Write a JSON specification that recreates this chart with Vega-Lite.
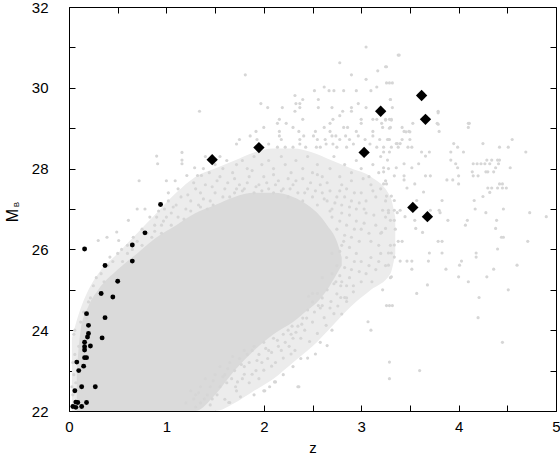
{
  "$schema": "https://vega.github.io/schema/vega-lite/v6.json",
  "autosize": "none",
  "padding": {"left": 69, "top": 7, "right": 4, "bottom": 44},
  "width": 487,
  "height": 404,
  "background": "white",
  "config": {
    "view": {"stroke": null},
    "axis": {
      "domainColor": "black", "tickColor": "black", "labelColor": "black", "titleColor": "black",
      "labelFont": "Liberation Sans", "titleFont": "Liberation Sans", "labelFontSize": 15, "titleFontSize": 15,
      "titleFontWeight": "normal", "grid": false, "tickSize": -6, "domainWidth": 1, "tickWidth": 1, "labelFlush": false
    }
  },
  "datasets": {
    "halo": [
      {"z": 0.03, "lo": 22.0, "hi": 23.8},
      {"z": 0.1, "lo": 22.0, "hi": 24.4},
      {"z": 0.2, "lo": 22.0, "hi": 25.0},
      {"z": 0.3, "lo": 22.0, "hi": 25.4},
      {"z": 0.5, "lo": 22.0, "hi": 25.9},
      {"z": 0.7, "lo": 22.0, "hi": 26.4},
      {"z": 0.9, "lo": 22.0, "hi": 26.9},
      {"z": 1.1, "lo": 22.0, "hi": 27.4},
      {"z": 1.3, "lo": 22.0, "hi": 27.8},
      {"z": 1.5, "lo": 22.0, "hi": 28.0},
      {"z": 1.7, "lo": 22.2, "hi": 28.2},
      {"z": 1.9, "lo": 22.5, "hi": 28.4},
      {"z": 2.1, "lo": 22.8, "hi": 28.5},
      {"z": 2.3, "lo": 23.2, "hi": 28.5},
      {"z": 2.5, "lo": 23.6, "hi": 28.4},
      {"z": 2.7, "lo": 24.1, "hi": 28.2},
      {"z": 2.9, "lo": 24.6, "hi": 28.0},
      {"z": 3.1, "lo": 25.0, "hi": 27.8},
      {"z": 3.3, "lo": 25.4, "hi": 27.3},
      {"z": 3.35, "lo": 25.9, "hi": 26.8}
    ],
    "core": [
      {"z": 0.08, "lo": 22.0, "hi": 23.0},
      {"z": 0.12, "lo": 22.0, "hi": 24.0},
      {"z": 0.2, "lo": 22.0, "hi": 24.6},
      {"z": 0.3, "lo": 22.0, "hi": 25.0},
      {"z": 0.5, "lo": 22.0, "hi": 25.5},
      {"z": 0.7, "lo": 22.0, "hi": 25.9},
      {"z": 0.9, "lo": 22.0, "hi": 26.3},
      {"z": 1.1, "lo": 22.0, "hi": 26.6},
      {"z": 1.3, "lo": 22.0, "hi": 26.9},
      {"z": 1.5, "lo": 22.4, "hi": 27.1},
      {"z": 1.7, "lo": 23.0, "hi": 27.3},
      {"z": 1.9, "lo": 23.5, "hi": 27.4},
      {"z": 2.1, "lo": 23.9, "hi": 27.4},
      {"z": 2.3, "lo": 24.2, "hi": 27.3},
      {"z": 2.45, "lo": 24.5, "hi": 27.1},
      {"z": 2.55, "lo": 24.7, "hi": 26.9},
      {"z": 2.65, "lo": 25.0, "hi": 26.6},
      {"z": 2.75, "lo": 25.4, "hi": 26.2},
      {"z": 2.8, "lo": 25.6, "hi": 25.8}
    ],
    "gray": [
      {"z":3.05,"m":31.01},{"z":3.38,"m":30.81},{"z":2.78,"m":30.62},{"z":1.81,"m":30.32},{"z":2.90,"m":30.32},{"z":3.17,"m":30.42},{"z":3.25,"m":30.52},{"z":3.05,"m":30.21},{"z":3.26,"m":30.12},{"z":3.32,"m":30.12},{"z":3.16,"m":30.02},{"z":2.62,"m":30.02},
      {"z":2.52,"m":29.93},{"z":2.67,"m":29.93},{"z":2.72,"m":29.93},{"z":2.82,"m":29.93},{"z":2.95,"m":29.93},{"z":3.10,"m":29.93},{"z":2.32,"m":29.81},{"z":2.56,"m":29.71},{"z":2.40,"m":29.71},{"z":2.33,"m":29.61},{"z":2.37,"m":29.61},{"z":1.97,"m":29.61},
      {"z":2.04,"m":29.51},{"z":2.19,"m":29.51},{"z":2.37,"m":29.51},{"z":2.56,"m":29.51},{"z":2.70,"m":29.51},{"z":2.90,"m":29.51},{"z":2.97,"m":29.61},{"z":3.05,"m":29.51},{"z":3.30,"m":29.71},{"z":3.32,"m":29.51},{"z":2.32,"m":29.42},{"z":2.81,"m":29.42},{"z":2.90,"m":29.42},
      {"z":2.16,"m":29.22},{"z":2.40,"m":29.22},{"z":2.78,"m":29.31},{"z":2.71,"m":29.22},{"z":3.0,"m":29.22},{"z":3.12,"m":29.22},{"z":3.16,"m":29.22},{"z":3.25,"m":29.22},{"z":3.31,"m":29.22},{"z":2.14,"m":29.12},{"z":2.23,"m":29.12},{"z":3.0,"m":29.12},{"z":3.21,"m":29.12},{"z":1.34,"m":29.42},
      {"z":2.30,"m":29.02},{"z":2.0,"m":29.02},{"z":1.92,"m":28.92},{"z":2.16,"m":28.92},{"z":2.36,"m":28.92},{"z":2.53,"m":28.92},{"z":2.62,"m":29.02},{"z":2.68,"m":29.12},{"z":2.82,"m":29.02},{"z":2.86,"m":29.02},{"z":2.68,"m":28.92},{"z":2.95,"m":28.92},{"z":3.12,"m":28.92},{"z":3.22,"m":29.02},{"z":3.30,"m":29.02},
      {"z":1.75,"m":28.72},{"z":1.86,"m":28.81},{"z":1.93,"m":28.72},{"z":2.16,"m":28.81},{"z":2.18,"m":28.72},{"z":2.37,"m":28.72},{"z":2.41,"m":28.81},{"z":2.51,"m":28.81},{"z":2.55,"m":28.72},{"z":2.63,"m":28.72},{"z":2.70,"m":28.81},{"z":2.74,"m":28.81},{"z":2.78,"m":28.72},{"z":2.84,"m":28.81},{"z":2.88,"m":28.72},{"z":2.97,"m":28.81},{"z":3.04,"m":28.72},{"z":3.12,"m":28.81},{"z":3.19,"m":28.72},{"z":3.28,"m":28.72},{"z":3.37,"m":28.62},
      {"z":1.72,"m":28.61},{"z":2.05,"m":28.61},{"z":2.14,"m":28.53},{"z":2.22,"m":28.53},{"z":2.30,"m":28.53},{"z":2.37,"m":28.61},{"z":2.43,"m":28.53},{"z":2.54,"m":28.53},{"z":2.58,"m":28.53},{"z":2.64,"m":28.61},{"z":2.71,"m":28.61},{"z":2.75,"m":28.53},{"z":2.85,"m":28.53},{"z":2.92,"m":28.61},{"z":3.09,"m":28.61},{"z":3.16,"m":28.53},{"z":3.23,"m":28.53},{"z":3.31,"m":28.53},{"z":3.38,"m":28.53},
      {"z":3.39,"m":30.81},{"z":3.26,"m":30.52},{"z":3.29,"m":30.12},{"z":3.30,"m":29.71},{"z":3.79,"m":29.42},{"z":3.29,"m":29.22},{"z":3.53,"m":29.12},{"z":3.78,"m":29.12},{"z":4.11,"m":29.12},{"z":4.10,"m":29.02},{"z":3.42,"m":29.02},{"z":3.80,"m":28.92},{"z":3.44,"m":28.92},{"z":3.49,"m":28.92},
      {"z":3.29,"m":28.72},{"z":3.42,"m":28.72},{"z":3.50,"m":28.72},{"z":4.55,"m":28.72},{"z":3.95,"m":28.62},{"z":3.99,"m":28.53},{"z":4.25,"m":28.62},{"z":4.42,"m":28.53},{"z":4.51,"m":28.53},{"z":3.36,"m":28.62},{"z":3.40,"m":28.62},{"z":3.48,"m":28.53},{"z":3.52,"m":28.53},
      {"z":3.79,"m":29.38},{"z":3.79,"m":29.10},{"z":4.10,"m":29.12},{"z":4.69,"m":28.41},{"z":3.92,"m":28.41},{"z":4.05,"m":28.41},{"z":3.92,"m":28.21},{"z":3.97,"m":28.12},{"z":4.15,"m":28.12},{"z":4.19,"m":28.12},{"z":4.23,"m":28.12},{"z":4.29,"m":28.21},{"z":4.34,"m":28.21},{"z":4.40,"m":28.21},{"z":4.42,"m":28.21},{"z":4.27,"m":28.12},{"z":4.32,"m":28.12},{"z":4.41,"m":28.12},
      {"z":4.53,"m":28.02},{"z":4.38,"m":28.02},{"z":3.99,"m":28.02},{"z":4.14,"m":27.92},{"z":4.28,"m":27.92},{"z":4.30,"m":27.92},{"z":4.36,"m":27.92},{"z":4.15,"m":27.82},{"z":4.20,"m":27.82},{"z":4.0,"m":27.82},{"z":3.88,"m":27.72},{"z":3.94,"m":27.72},{"z":4.0,"m":27.62},{"z":4.42,"m":27.62},{"z":4.45,"m":27.62},
      {"z":4.30,"m":27.52},{"z":4.34,"m":27.52},{"z":4.40,"m":27.52},{"z":4.45,"m":27.52},{"z":4.49,"m":27.52},{"z":4.32,"m":27.41},{"z":4.25,"m":27.31},{"z":4.16,"m":27.21},{"z":4.17,"m":27.0},{"z":4.46,"m":27.0},{"z":4.28,"m":26.91},{"z":4.73,"m":26.91},{"z":4.90,"m":26.81},{"z":4.39,"m":26.72},{"z":4.09,"m":26.72},{"z":4.07,"m":26.6},{"z":4.38,"m":26.52},
      {"z":4.44,"m":26.30},{"z":4.46,"m":26.30},{"z":4.71,"m":26.2},{"z":4.40,"m":26.01},{"z":4.18,"m":25.91},{"z":4.18,"m":25.81},{"z":4.03,"m":25.71},{"z":4.01,"m":25.61},{"z":4.60,"m":25.61},{"z":4.36,"m":25.51},{"z":4.0,"m":25.32},{"z":4.29,"m":25.32},{"z":4.10,"m":25.2},{"z":4.51,"m":25.0},{"z":4.21,"m":24.81},{"z":3.68,"m":25.12},{"z":3.57,"m":24.91},{"z":3.26,"m":24.61},{"z":3.29,"m":24.61},{"z":3.32,"m":24.61},
      {"z":3.25,"m":29.2},{"z":3.31,"m":29.2},{"z":3.29,"m":29.0},{"z":3.50,"m":28.91},{"z":3.46,"m":28.91},{"z":3.27,"m":28.72},{"z":3.23,"m":28.41},{"z":3.29,"m":28.41},{"z":3.62,"m":28.41},{"z":3.70,"m":28.41},{"z":3.66,"m":28.31},{"z":3.27,"m":28.21},{"z":3.44,"m":28.12},{"z":3.59,"m":28.12},{"z":3.23,"m":28.02},{"z":3.36,"m":28.02},{"z":3.52,"m":28.02},{"z":3.23,"m":27.92},
      {"z":3.34,"m":27.82},{"z":3.44,"m":27.82},{"z":3.66,"m":27.82},{"z":3.71,"m":27.82},{"z":3.44,"m":27.72},{"z":3.23,"m":27.62},{"z":3.26,"m":27.62},{"z":3.55,"m":27.62},{"z":3.47,"m":27.52},{"z":3.64,"m":27.42},{"z":3.26,"m":27.32},{"z":3.31,"m":27.32},{"z":3.34,"m":27.21},{"z":3.57,"m":27.21},{"z":3.83,"m":27.21},
      {"z":3.22,"m":26.97},{"z":3.28,"m":26.97},{"z":3.34,"m":26.97},{"z":3.40,"m":26.97},{"z":3.71,"m":26.97},{"z":3.80,"m":26.97},{"z":3.81,"m":26.91},{"z":3.28,"m":26.91},{"z":3.37,"m":26.91},{"z":3.45,"m":26.81},{"z":3.55,"m":26.72},{"z":3.34,"m":26.72},{"z":3.30,"m":26.72},{"z":3.89,"m":26.72},{"z":3.56,"m":26.52},{"z":3.63,"m":26.42},{"z":3.25,"m":26.52},{"z":3.21,"m":26.42},
      {"z":3.79,"m":26.2},{"z":3.83,"m":26.2},{"z":3.38,"m":26.2},{"z":3.42,"m":26.2},{"z":3.34,"m":26.11},{"z":3.70,"m":25.91},{"z":3.83,"m":25.91},{"z":3.28,"m":25.91},{"z":3.31,"m":25.91},{"z":3.34,"m":25.81},{"z":3.40,"m":25.71},{"z":3.47,"m":25.71},{"z":3.52,"m":25.71},{"z":3.69,"m":25.71},{"z":3.28,"m":25.61},{"z":3.52,"m":25.51},{"z":3.87,"m":25.51},{"z":3.31,"m":25.32},
      {"z":4.20,"m":24.31},{"z":4.45,"m":23.70},{"z":3.29,"m":23.21},{"z":3.60,"m":23.0},{"z":3.29,"m":22.80},
      {"z":3.07,"m":24.21},{"z":3.10,"m":24.0},{"z":2.36,"m":22.6},{"z":2.12,"m":22.72},{"z":2.0,"m":22.5},{"z":1.64,"m":22.21},{"z":1.60,"m":22.29},{"z":1.39,"m":22.3},{"z":1.47,"m":22.3},
      {"z":1.65,"m":22.21},{"z":1.71,"m":22.6},{"z":1.73,"m":22.72},{"z":1.67,"m":22.8},{"z":1.80,"m":22.91},{"z":1.88,"m":22.91},{"z":2.0,"m":23.01},{"z":2.01,"m":22.5},{"z":2.06,"m":22.6},{"z":2.11,"m":22.72},{"z":2.35,"m":22.6},{"z":2.08,"m":23.11},{"z":2.20,"m":23.31},{"z":2.45,"m":23.31},{"z":2.28,"m":23.41},{"z":2.53,"m":23.41},
      {"z":2.65,"m":23.62},{"z":2.47,"m":23.72},{"z":2.55,"m":23.92},{"z":2.64,"m":24.12},{"z":2.62,"m":24.31},{"z":2.72,"m":24.41},{"z":2.69,"m":24.71},{"z":2.85,"m":24.71},{"z":2.79,"m":24.81},{"z":2.83,"m":24.81},{"z":2.74,"m":25.2},{"z":2.79,"m":25.1},{"z":2.85,"m":25.1},{"z":2.92,"m":25.1},{"z":3.0,"m":25.2},{"z":3.11,"m":25.2},{"z":3.22,"m":25.0},{"z":2.56,"m":24.61},{"z":2.60,"m":24.61},{"z":2.46,"m":24.84},{"z":2.55,"m":24.91},{"z":2.50,"m":24.91},
      {"z":1.25,"m":22.5},{"z":1.3,"m":22.4},{"z":1.35,"m":22.6},{"z":1.4,"m":22.8},{"z":1.45,"m":22.6},{"z":1.5,"m":22.9},{"z":1.55,"m":23.1},{"z":1.6,"m":22.9},{"z":1.65,"m":23.2},{"z":1.7,"m":23.0},{"z":1.75,"m":23.3},{"z":1.8,"m":23.5},{"z":1.85,"m":23.2},{"z":1.9,"m":23.6},{"z":1.95,"m":23.4},{"z":2.0,"m":23.7},{"z":2.05,"m":23.5},{"z":2.1,"m":23.8},{"z":2.15,"m":23.6},{"z":2.2,"m":23.9},{"z":2.25,"m":24.0},{"z":2.3,"m":23.8},{"z":2.35,"m":24.1},{"z":2.4,"m":24.3},{"z":2.45,"m":24.5},
      {"z":1.55,"m":22.6},{"z":1.62,"m":22.7},{"z":1.72,"m":22.5},{"z":1.78,"m":22.8},{"z":1.85,"m":22.7},{"z":1.92,"m":23.0},{"z":1.98,"m":23.2},{"z":2.04,"m":23.3},{"z":2.12,"m":23.2},{"z":2.18,"m":23.5},{"z":2.26,"m":23.6},{"z":2.32,"m":23.5},{"z":2.38,"m":23.8},{"z":2.42,"m":24.0},{"z":1.35,"m":22.2},{"z":1.45,"m":22.15},{"z":1.52,"m":22.4},{"z":1.3,"m":22.1},{"z":1.2,"m":22.2},{"z":1.8,"m":23.1},{"z":1.95,"m":22.8},{"z":2.28,"m":23.9},{"z":2.5,"m":24.2},{"z":2.5,"m":24.7},
      {"z":1.28,"m":22.3},{"z":1.33,"m":22.45},{"z":1.42,"m":22.4},{"z":1.48,"m":22.75},{"z":1.58,"m":22.85},{"z":1.63,"m":23.05},{"z":1.68,"m":23.35},{"z":1.77,"m":23.15},{"z":1.83,"m":23.4},{"z":1.88,"m":23.5},{"z":1.93,"m":23.25},{"z":2.02,"m":23.55},{"z":2.08,"m":23.45},{"z":2.14,"m":23.75},{"z":2.22,"m":23.7},{"z":2.29,"m":24.1},{"z":2.33,"m":23.95},{"z":2.39,"m":24.15},{"z":2.44,"m":24.3},{"z":2.52,"m":24.45},{"z":2.58,"m":24.55},{"z":2.6,"m":24.8},{"z":1.9,"m":22.4},{"z":1.76,"m":22.35},{"z":2.2,"m":22.9},{"z":2.3,"m":23.1},{"z":2.38,"m":23.3},{"z":2.58,"m":23.7},{"z":2.7,"m":24.0},{"z":2.8,"m":24.4},
      {"z":0.72,"m":27.7},{"z":1.0,"m":27.7},{"z":1.09,"m":27.7},{"z":0.70,"m":27.0},{"z":0.78,"m":27.0},{"z":0.83,"m":26.8},{"z":0.90,"m":26.8},{"z":0.49,"m":26.43},{"z":0.30,"m":26.22},{"z":0.39,"m":26.3},{"z":0.54,"m":26.0},{"z":0.60,"m":26.1},{"z":0.66,"m":26.3},{"z":0.75,"m":26.5},{"z":0.88,"m":26.6},{"z":0.95,"m":26.6},
      {"z":1.02,"m":27.4},{"z":1.02,"m":27.2},{"z":1.1,"m":27.1},{"z":1.15,"m":27.3},{"z":1.2,"m":27.0},{"z":1.25,"m":27.2},{"z":1.3,"m":27.5},{"z":1.35,"m":27.4},{"z":1.4,"m":27.6},{"z":1.45,"m":27.2},{"z":1.5,"m":27.4},{"z":1.55,"m":27.8},{"z":1.6,"m":27.5},{"z":1.21,"m":27.83},{"z":1.29,"m":28.02},{"z":1.32,"m":27.83},{"z":1.36,"m":27.83},{"z":1.16,"m":28.4},{"z":1.16,"m":28.21},{"z":1.16,"m":28.12},{"z":0.90,"m":28.31},{"z":0.91,"m":28.12},
      {"z":1.05,"m":26.9},{"z":0.97,"m":26.7},{"z":1.12,"m":26.8},{"z":1.18,"m":26.75},{"z":1.42,"m":27.0},{"z":1.48,"m":27.1},{"z":1.38,"m":28.0},{"z":1.44,"m":27.9},{"z":1.5,"m":28.1},{"z":1.58,"m":28.0},{"z":1.62,"m":28.2},{"z":1.55,"m":28.3},{"z":1.4,"m":28.3},
      {"z":1.22,"m":27.35},{"z":1.28,"m":27.65},{"z":1.33,"m":27.1},{"z":1.38,"m":27.25},{"z":1.47,"m":27.55},{"z":1.52,"m":27.7},{"z":1.58,"m":27.3},{"z":1.63,"m":27.65},{"z":1.12,"m":27.5},{"z":1.07,"m":27.05},{"z":0.98,"m":27.0},{"z":0.92,"m":26.95},{"z":1.25,"m":26.95},{"z":1.35,"m":27.05},
      {"z":1.65,"m":27.3},{"z":1.7,"m":27.4},{"z":1.75,"m":27.6},{"z":1.68,"m":27.9},{"z":1.8,"m":27.5},{"z":1.85,"m":27.8},{"z":1.9,"m":27.4},{"z":1.95,"m":27.6},{"z":2.0,"m":27.8},{"z":2.05,"m":27.5},{"z":2.1,"m":27.4},{"z":2.15,"m":27.7},{"z":2.2,"m":27.5},{"z":2.25,"m":27.3},{"z":2.3,"m":27.6},{"z":2.35,"m":27.4},{"z":2.4,"m":27.2},{"z":2.45,"m":27.5},{"z":2.5,"m":27.3},{"z":2.55,"m":27.1},{"z":2.6,"m":27.4},{"z":2.65,"m":27.2},{"z":2.7,"m":27.0},{"z":2.75,"m":27.3},{"z":2.8,"m":27.1},{"z":2.85,"m":27.5},{"z":2.9,"m":27.2},{"z":2.95,"m":27.0},{"z":3.0,"m":27.4},{"z":3.05,"m":27.2},{"z":3.1,"m":27.6},{"z":3.15,"m":27.3},
      {"z":1.72,"m":27.5},{"z":1.78,"m":27.45},{"z":1.83,"m":27.65},{"z":1.92,"m":27.55},{"z":1.98,"m":27.45},{"z":2.03,"m":27.65},{"z":2.12,"m":27.6},{"z":2.18,"m":27.45},{"z":2.27,"m":27.5},{"z":2.33,"m":27.7},{"z":2.42,"m":27.4},{"z":2.48,"m":27.65},{"z":2.53,"m":27.45},{"z":2.58,"m":27.6},{"z":2.62,"m":27.25},{"z":2.68,"m":27.45},{"z":2.73,"m":27.15},{"z":2.78,"m":27.45},{"z":2.83,"m":27.3},{"z":2.88,"m":27.05},{"z":2.93,"m":27.4},{"z":2.98,"m":27.15},{"z":3.03,"m":27.0},{"z":3.12,"m":27.45},
      {"z":1.72,"m":28.1},{"z":1.78,"m":28.2},{"z":1.83,"m":28.0},{"z":1.9,"m":28.3},{"z":1.98,"m":28.1},{"z":2.05,"m":28.2},{"z":2.1,"m":28.0},{"z":2.18,"m":28.3},{"z":2.22,"m":28.1},{"z":2.28,"m":27.9},{"z":2.33,"m":28.2},{"z":2.4,"m":28.0},{"z":2.45,"m":28.3},{"z":2.5,"m":27.9},{"z":2.55,"m":28.1},{"z":2.6,"m":27.8},{"z":2.68,"m":28.0},{"z":2.72,"m":28.3},{"z":2.78,"m":27.8},{"z":2.83,"m":28.1},{"z":2.9,"m":27.9},{"z":2.95,"m":28.2},{"z":3.0,"m":28.0},{"z":3.08,"m":27.8},{"z":3.12,"m":28.1},{"z":3.18,"m":27.9},{"z":3.2,"m":28.3},{"z":3.25,"m":27.7},{"z":3.28,"m":28.0},
      {"z":1.7,"m":27.75},{"z":2.1,"m":27.85},{"z":2.4,"m":27.75},{"z":2.65,"m":27.65},{"z":2.9,"m":27.7},{"z":3.2,"m":27.5},{"z":3.25,"m":27.2},{"z":1.88,"m":27.95},{"z":2.25,"m":27.75},{"z":2.55,"m":27.85},{"z":2.8,"m":27.6},{"z":3.02,"m":27.75},
      {"z":2.7,"m":26.8},{"z":2.75,"m":26.5},{"z":2.8,"m":26.9},{"z":2.85,"m":26.6},{"z":2.9,"m":26.3},{"z":2.95,"m":26.7},{"z":3.0,"m":26.5},{"z":3.05,"m":26.9},{"z":3.1,"m":26.2},{"z":3.15,"m":26.6},{"z":3.2,"m":26.4},{"z":3.25,"m":26.8},{"z":3.3,"m":26.1},{"z":3.35,"m":26.5},
      {"z":2.68,"m":26.95},{"z":2.78,"m":26.7},{"z":2.83,"m":26.35},{"z":2.88,"m":26.85},{"z":2.93,"m":26.5},{"z":2.98,"m":26.2},{"z":3.03,"m":26.65},{"z":3.08,"m":26.4},{"z":3.13,"m":26.85},{"z":3.18,"m":26.1},{"z":2.82,"m":26.2},{"z":2.78,"m":25.95},{"z":2.88,"m":26.05},
      {"z":2.7,"m":25.9},{"z":2.75,"m":25.6},{"z":2.8,"m":26.1},{"z":2.85,"m":25.8},{"z":2.9,"m":25.5},{"z":2.95,"m":25.9},{"z":3.0,"m":25.7},{"z":3.05,"m":25.4},{"z":3.1,"m":25.8},{"z":3.15,"m":25.5},{"z":3.2,"m":25.9},{"z":3.25,"m":25.6},{"z":3.3,"m":25.3},{"z":2.6,"m":25.3},{"z":2.65,"m":25.0},{"z":2.7,"m":25.4},{"z":2.75,"m":24.9},{"z":2.8,"m":25.2},{"z":2.85,"m":24.8},
      {"z":2.83,"m":25.55},{"z":2.88,"m":25.3},{"z":2.93,"m":25.7},{"z":2.98,"m":25.45},{"z":3.08,"m":25.6},{"z":3.18,"m":25.7},{"z":2.72,"m":25.15},{"z":2.78,"m":25.35},{"z":2.92,"m":24.95},{"z":2.68,"m":24.55},{"z":2.76,"m":24.6},
      {"z":0.22,"m":24.8},{"z":0.25,"m":25.1},{"z":0.28,"m":25.3},{"z":0.33,"m":25.4},{"z":0.36,"m":25.2},{"z":0.4,"m":25.6},{"z":0.45,"m":25.7},{"z":0.42,"m":25.81},{"z":0.5,"m":25.9},{"z":0.55,"m":25.7},{"z":0.51,"m":26.22},{"z":0.6,"m":25.9},{"z":0.61,"m":26.72},{"z":0.65,"m":26.0},{"z":0.7,"m":26.2},{"z":0.75,"m":26.1},{"z":0.8,"m":26.4},{"z":0.85,"m":26.3},{"z":0.88,"m":26.45},{"z":0.95,"m":26.4},{"z":1.0,"m":26.8},{"z":1.05,"m":26.6},
      {"z":0.18,"m":24.3},{"z":0.12,"m":24.2},{"z":0.1,"m":23.6},{"z":0.06,"m":23.4},{"z":0.05,"m":23.9},{"z":0.04,"m":23.2},{"z":0.03,"m":22.6},{"z":0.05,"m":22.9},{"z":0.06,"m":24.0},{"z":0.04,"m":22.4},{"z":0.07,"m":22.7},{"z":0.15,"m":24.45},{"z":0.2,"m":24.7}
    ],
    "black": [
      {"z":0.16,"m":26.01},{"z":0.37,"m":25.6},{"z":0.50,"m":25.21},{"z":0.33,"m":24.91},{"z":0.45,"m":24.82},{"z":0.65,"m":26.11},{"z":0.65,"m":25.71},{"z":0.78,"m":26.41},{"z":0.94,"m":27.11},
      {"z":0.18,"m":24.41},{"z":0.37,"m":24.31},{"z":0.20,"m":24.12},{"z":0.20,"m":23.92},{"z":0.19,"m":23.83},{"z":0.34,"m":23.81},{"z":0.22,"m":23.61},{"z":0.16,"m":23.70},{"z":0.16,"m":23.59},{"z":0.16,"m":23.51},{"z":0.16,"m":23.32},{"z":0.18,"m":23.32},
      {"z":0.08,"m":23.21},{"z":0.15,"m":23.11},{"z":0.10,"m":23.00},{"z":0.13,"m":22.60},{"z":0.27,"m":22.60},{"z":0.06,"m":22.50},{"z":0.07,"m":22.22},{"z":0.09,"m":22.21},{"z":0.04,"m":22.11},{"z":0.07,"m":22.09},{"z":0.13,"m":22.11},{"z":0.18,"m":22.21}
    ],
    "diam": [
      {"z":1.47,"m":28.22},{"z":1.95,"m":28.52},{"z":3.03,"m":28.40},{"z":3.20,"m":29.42},{"z":3.62,"m":29.81},{"z":3.66,"m":29.22},{"z":3.53,"m":27.04},{"z":3.68,"m":26.81}
    ]
  },
  "resolve": {"axis": {"x": "independent", "y": "independent"}},
  "layer": [
    {
      "data": {"name": "halo"},
      "mark": {"type": "area", "color": "#ececec", "opacity": 1, "interpolate": "monotone"},
      "encoding": {
        "x": {"field": "z", "type": "quantitative",
          "scale": {"domain": [0, 5], "nice": false, "zero": false},
          "axis": {"orient": "bottom", "values": [0,0.5,1,1.5,2,2.5,3,3.5,4,4.5,5],
            "labelExpr": "datum.value % 1 === 0 ? '' + datum.value : ''", "labelPadding": 14,
            "title": "z", "titleY": 41, "titleBaseline": "alphabetic"}},
        "y": {"field": "lo", "type": "quantitative",
          "scale": {"domain": [22, 32], "nice": false, "zero": false},
          "axis": {"orient": "left", "values": [22,23,24,25,26,27,28,29,30,31,32],
            "labelExpr": "datum.value % 2 === 0 ? '' + datum.value : ''", "labelPadding": 27,
            "title": "M", "titleX": -52, "titleY": 208, "titleAngle": 270, "titleAlign": "center", "titleBaseline": "alphabetic", "titleFontSize": 16}},
        "y2": {"field": "hi"}
      }
    },
    {
      "data": {"name": "core"},
      "mark": {"type": "area", "color": "#dadada", "opacity": 1, "interpolate": "monotone"},
      "encoding": {
        "x": {"field": "z", "type": "quantitative", "axis": null},
        "y": {"field": "lo", "type": "quantitative", "axis": null},
        "y2": {"field": "hi"}
      }
    },
    {
      "data": {"name": "gray"},
      "mark": {"type": "point", "shape": "circle", "filled": true, "color": "#d6d6d6", "size": 10, "opacity": 1},
      "encoding": {
        "x": {"field": "z", "type": "quantitative",
          "axis": {"orient": "top", "values": [0,0.5,1,1.5,2,2.5,3,3.5,4,4.5,5], "labels": false, "title": null}},
        "y": {"field": "m", "type": "quantitative",
          "axis": {"orient": "right", "values": [22,23,24,25,26,27,28,29,30,31,32], "labels": false, "title": null}}
      }
    },
    {
      "data": {"name": "black"},
      "mark": {"type": "point", "shape": "circle", "filled": true, "color": "black", "size": 24, "opacity": 1},
      "encoding": {
        "x": {"field": "z", "type": "quantitative", "axis": null},
        "y": {"field": "m", "type": "quantitative",
          "axis": {"orient": "left", "labels": false, "ticks": false, "domain": false, "title": "B",
            "titleX": -51, "titleY": 197, "titleAngle": 270, "titleAlign": "center", "titleBaseline": "alphabetic", "titleFontSize": 8}}
      }
    },
    {
      "data": {"name": "diam"},
      "mark": {"type": "point", "shape": "diamond", "filled": true, "color": "black", "size": 128, "opacity": 1},
      "encoding": {
        "x": {"field": "z", "type": "quantitative", "axis": null},
        "y": {"field": "m", "type": "quantitative", "axis": null}
      }
    }
  ]
}
